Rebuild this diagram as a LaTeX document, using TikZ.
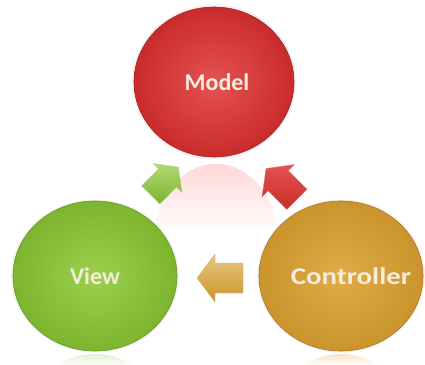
\documentclass[tikz,border=0pt]{standalone}
\usepackage{fontspec}
\setmainfont{Carlito}
\usetikzlibrary{shapes.geometric,calc}
\definecolor{mredin}{HTML}{E65252}
\definecolor{mredout}{HTML}{C92B2B}
\definecolor{mrededge}{HTML}{A82424}
\definecolor{vgreen}{HTML}{8DC63F}
\definecolor{vgreenin}{HTML}{9CD04C}
\definecolor{vgreenout}{HTML}{7DB52F}
\definecolor{vgreenedge}{HTML}{679A24}
\definecolor{corin}{HTML}{DEAC48}
\definecolor{corout}{HTML}{CB942C}
\definecolor{coredge}{HTML}{A87722}
\definecolor{txtw}{HTML}{F4ECDD}
\tikzset{
  blob/.style={ellipse, minimum width=164pt, minimum height=150pt, inner sep=0pt,
     font=\bfseries\fontsize{24}{28}\selectfont, text=txtw, line width=0.6pt},
  blockarrow/.pic={
    \shade[pic actions] (-23,0) -- (-5,-24) -- (-5,-15) -- (23,-15) -- (23,15) -- (-5,15) -- (-5,24) -- cycle;
  }
}
\begin{document}
\begin{tikzpicture}[x=1pt,y=-1pt]
\useasboundingbox (0,0) rectangle (425,364);
\fill[white] (0,0) rectangle (425,364);
% reflections
\begin{scope}
  \clip (216,240) ellipse [x radius=62, y radius=76];
  \shade[top color=red!16, bottom color=white] (130,163) rectangle (300,232);
\end{scope}
\begin{scope}
  \clip (95,428) ellipse [x radius=70, y radius=74];
  \shade[top color=vgreen!25, bottom color=white] (10,354) rectangle (180,366);
\end{scope}
\begin{scope}
  \clip (341,428) ellipse [x radius=70, y radius=74];
  \shade[top color=corin!30, bottom color=white] (255,354) rectangle (425,366);
\end{scope}
% soft glows
\fill[black!5] (214,82) ellipse [x radius=82, y radius=77.5];
\fill[black!5] (95,276) ellipse [x radius=84, y radius=76.5];
\fill[black!5] (341,276) ellipse [x radius=84, y radius=76.5];
% circles
\node[blob, minimum width=160pt, minimum height=150pt, draw=mrededge, inner color=mredin, outer color=mredout] (model) at (214,82) {\makebox[0pt]{\hspace*{6pt}Model}};
\node[blob, draw=vgreenedge, inner color=vgreenin, outer color=vgreenout] (view) at (95,276) {View};
\node[blob, draw=coredge, inner color=corin, outer color=corout] (ctrl) at (341,276) {\makebox[0pt]{\hspace*{20pt}\scalebox{1.2}[1]{Controller}}};
% block arrows
\pic[top color=corin!70!white, bottom color=corout, draw=coredge!60, line width=0.3pt] at ($(ctrl)!0.5!(view)+(2,2)$) {blockarrow};
\pic[rotate=-135, scale=0.85, top color=vgreenin!80!white, bottom color=vgreenout, draw=vgreenedge!60, line width=0.3pt] at ($(view)!0.5!(model)+(10,2)$) {blockarrow};
\pic[rotate=-45, scale=0.95, top color=mredin, bottom color=mredout, draw=mrededge!60, line width=0.3pt] at ($(ctrl)!0.5!(model)+(4,5)$) {blockarrow};
\end{tikzpicture}
\end{document}
